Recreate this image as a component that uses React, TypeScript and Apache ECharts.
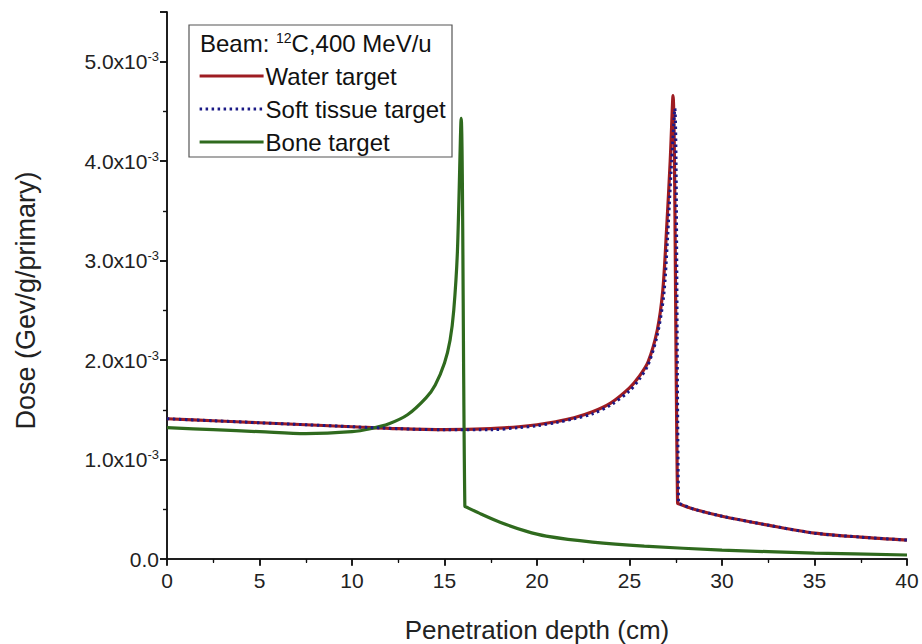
import React, { useEffect, useRef } from "react";
import * as echarts from "echarts";

// Penetration depth (cm) and dose (in units of 10^-3 GeV/g/primary)
const waterX = [0, 2.5, 5, 7.5, 10, 12.5, 15, 17.5, 19, 20, 21, 22, 23, 24, 25, 25.5, 26, 26.5, 26.8, 27.0, 27.2, 27.35, 27.6, 27.7, 28.5, 30, 32.5, 35, 37.5, 40];
const waterY = [1.41, 1.39, 1.37, 1.35, 1.33, 1.31, 1.3, 1.31, 1.33, 1.35, 1.38, 1.42, 1.48, 1.57, 1.72, 1.83, 1.98, 2.3, 2.7, 3.3, 4.0, 4.66, 0.56, 0.553, 0.5, 0.43, 0.34, 0.26, 0.22, 0.19];

const softX = [0, 2.5, 5, 7.5, 10, 12.5, 15, 17.5, 19, 20, 21, 22, 23, 24, 25, 25.5, 26, 26.5, 26.85, 27.05, 27.25, 27.45, 27.65, 27.75, 28.5, 30, 32.5, 35, 37.5, 40];
const softY = [1.41, 1.39, 1.37, 1.35, 1.33, 1.31, 1.3, 1.3, 1.32, 1.34, 1.37, 1.41, 1.46, 1.55, 1.69, 1.8, 1.95, 2.25, 2.65, 3.2, 3.9, 4.53, 0.56, 0.553, 0.5, 0.43, 0.34, 0.26, 0.22, 0.19];

const boneX = [0, 2.5, 5, 7.5, 10, 11, 12, 13, 14, 14.5, 15, 15.3, 15.5, 15.7, 15.9, 16.1, 16.2, 17, 18, 19.4, 20.5, 23, 25.8, 30, 35, 40];
const boneY = [1.32, 1.3, 1.28, 1.26, 1.28, 1.31, 1.36, 1.45, 1.62, 1.75, 1.97, 2.2, 2.5, 3.1, 4.43, 0.53, 0.52, 0.45, 0.37, 0.28, 0.23, 0.17, 0.13, 0.09, 0.06, 0.04];

const seriesNames = ["Water target", "Soft tissue target", "Bone target"];
const xTicks = [0, 5, 10, 15, 20, 25, 30, 35, 40];
const yTicks = [0, 1, 2, 3, 4, 5];

const pairs = (xs: number[], ys: number[]) => xs.map((x, i) => [x, ys[i]]);

export default function App() {
  const ref = useRef<HTMLDivElement>(null);
  useEffect(() => {
    if (!ref.current) return;
    const chart = echarts.init(ref.current, null, { renderer: "svg" });
    const font = "Liberation Sans, Arial, sans-serif";
    const axisLineStyle = { color: "#111", width: 1.5 };
    chart.setOption({
      animation: false,
      backgroundColor: "#fff",
      grid: { left: 167, right: 15, top: 12, bottom: 85, containLabel: false, outerBoundsMode: "none" },
      xAxis: [
        {
          type: "value",
          min: xTicks[0],
          max: xTicks[xTicks.length - 1],
          interval: 5,
          position: "bottom",
          name: "Penetration depth (cm)",
          nameLocation: "middle",
          nameGap: 58,
          nameTextStyle: { fontFamily: font, fontSize: 26, color: "#222" },
          axisLine: { lineStyle: axisLineStyle },
          axisTick: { inside: false, length: 7, lineStyle: { color: "#111", width: 1.5 } },
          minorTick: { show: true, splitNumber: 2, length: 4, lineStyle: { color: "#111", width: 1.2 } },
          axisLabel: { fontFamily: font, fontSize: 21, color: "#222", margin: 11 },
          splitLine: { show: false },
        },
        {
          type: "value",
          min: xTicks[0],
          max: xTicks[xTicks.length - 1],
          interval: 5,
          position: "top",
          axisLine: { lineStyle: axisLineStyle },
          axisTick: { inside: true, length: 6, lineStyle: { color: "#111", width: 1.5 } },
          minorTick: { show: true, splitNumber: 2, length: 3, lineStyle: { color: "#111", width: 1.2 } },
          axisLabel: { show: false },
          splitLine: { show: false },
        },
      ],
      yAxis: [
        {
          type: "value",
          min: 0,
          max: 5.5,
          interval: 1,
          position: "left",
          name: "Dose (Gev/g/primary)",
          nameLocation: "middle",
          nameGap: 128,
          nameRotate: 90,
          nameTextStyle: { fontFamily: font, fontSize: 27, color: "#222", padding: [0, 30, 0, 0] },
          axisLine: { lineStyle: axisLineStyle },
          axisTick: { inside: false, length: 7, lineStyle: { color: "#111", width: 1.5 } },
          minorTick: { show: true, splitNumber: 2, length: 4, lineStyle: { color: "#111", width: 1.2 } },
          axisLabel: {
            margin: 8,
            formatter: (v: number) => {
              if (!yTicks.includes(v)) return "";
              if (v === 0) return "{b|0.0}";
              return "{b|" + v.toFixed(1) + "x10}{s|-3}";
            },
            rich: {
              b: { fontFamily: font, fontSize: 21, color: "#222" },
              s: { fontFamily: font, fontSize: 13, color: "#222", padding: [0, 0, 10, 0] },
            },
          },
          splitLine: { show: false },
        },
        {
          type: "value",
          min: 0,
          max: 5.5,
          interval: 1,
          position: "right",
          axisLine: { lineStyle: axisLineStyle },
          axisTick: { inside: true, length: 7, lineStyle: { color: "#111", width: 1.5 } },
          minorTick: { show: true, splitNumber: 2, length: 4, lineStyle: { color: "#111", width: 1.2 } },
          axisLabel: { show: false },
          splitLine: { show: false },
        },
      ],
      legend: {
        orient: "vertical",
        left: 198,
        top: 64,
        itemWidth: 64,
        itemHeight: 14,
        itemGap: 9,
        padding: 0,
        itemStyle: { opacity: 0, borderWidth: 0 },
        lineStyle: { width: 3.2 },
        textStyle: { fontFamily: font, fontSize: 24, lineHeight: 24, color: "#111", padding: [0, 0, 0, -3] },
        data: seriesNames,
      },
      graphic: [
        {
          type: "rect",
          shape: { x: 189, y: 25, width: 263, height: 132 },
          style: { fill: "none", stroke: "#555", lineWidth: 1.2 },
          z: 1,
        },
        {
          type: "text",
          x: 200,
          y: 31,
          style: {
            text: "{t|Beam: }{s|12}{t|C,400 MeV/u}",
            rich: {
              t: { fontFamily: font, fontSize: 24, fill: "#111" },
              s: { fontFamily: font, fontSize: 14, fill: "#111", padding: [0, 0, 10, 0] },
            },
          },
          z: 2,
        },
      ],
      series: [
        {
          name: seriesNames[0],
          type: "line",
          data: pairs(waterX, waterY),
          showSymbol: false,
          symbol: "none",
          smooth: 0.3,
          lineStyle: { color: "#9e1c22", width: 3.2 },
          itemStyle: { color: "#9e1c22" },
          z: 3,
        },
        {
          name: seriesNames[1],
          type: "line",
          data: pairs(softX, softY),
          showSymbol: false,
          symbol: "none",
          smooth: 0.3,
          lineStyle: { color: "#1b1a86", width: 3, type: [2.5, 3.5] },
          itemStyle: { color: "#1b1a86" },
          z: 4,
        },
        {
          name: seriesNames[2],
          type: "line",
          data: pairs(boneX, boneY),
          showSymbol: false,
          symbol: "none",
          smooth: 0.3,
          lineStyle: { color: "#2f6a1e", width: 3.2 },
          itemStyle: { color: "#2f6a1e" },
          z: 3,
        },
      ],
    });
    return () => chart.dispose();
  }, []);
  return <div ref={ref} style={{ width: 922, height: 644, position: "absolute", left: 0, top: 0 }} />;
}
